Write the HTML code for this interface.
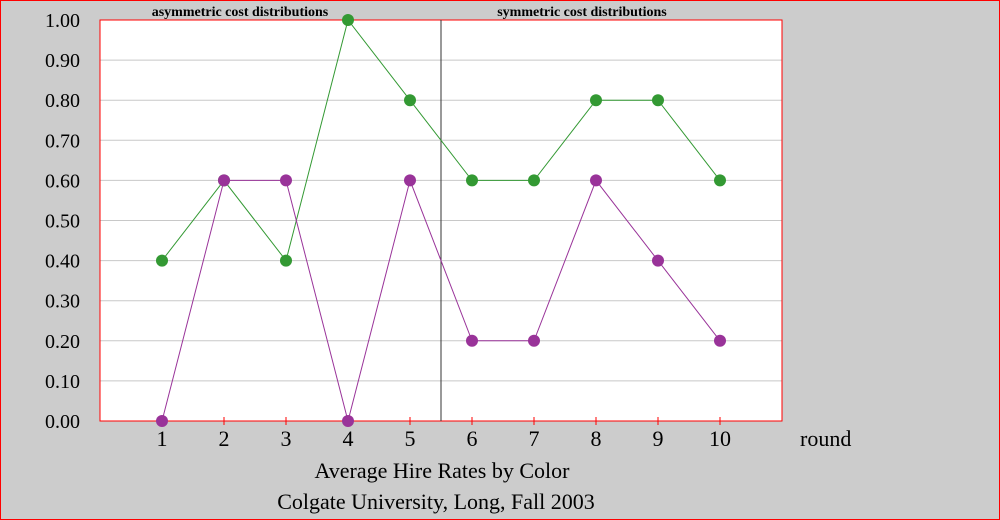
<!DOCTYPE html>
<html><head><meta charset="utf-8"><style>
body{margin:0;background:#ccc}
svg{display:block;font-family:"Liberation Serif",serif}
</style></head><body>
<svg width="1000" height="520">
<rect x="0.5" y="0.5" width="999" height="519" fill="#cccccc" stroke="#ff0000"/>
<g id="plot"></g>
</svg>
<script>
const rounds=[1,2,3,4,5,6,7,8,9,10];
const greenVals=[0.4,0.6,0.4,1.0,0.8,0.6,0.6,0.8,0.8,0.6];
const purpleVals=[0.0,0.6,0.6,0.0,0.6,0.2,0.2,0.6,0.4,0.2];
const yTicks=[0,0.1,0.2,0.3,0.4,0.5,0.6,0.7,0.8,0.9,1.0];
const L=100,R=782,T=20,B=421;
const xs=v=>L+(v/11)*(R-L);
const ys=v=>B-v*(B-T);
const NS="http://www.w3.org/2000/svg";
const g=document.getElementById('plot');
function mk(t,a,parent){const e=document.createElementNS(NS,t);for(const k in a)e.setAttribute(k,a[k]);(parent||g).appendChild(e);return e;}
const bg=mk('rect',{x:L,y:T,width:R-L,height:B-T,fill:'#fff'});


yTicks.forEach(v=>{
 if(v>0&&v<1){const ln=mk('line',{x1:L,x2:R,y1:ys(v),y2:ys(v),stroke:'#c8c8c8'});
 
 }
 const t=mk('text',{x:80,y:ys(v)+7,'text-anchor':'end','font-size':20});
 t.textContent=v.toFixed(2);
 
 
});
const fr=mk('rect',{x:L,y:T,width:R-L,height:B-T,fill:'none',stroke:'#ff0000'});


rounds.forEach(r=>{
 const tk=mk('line',{x1:xs(r),x2:xs(r),y1:B-4,y2:B+4,stroke:'#ff0000'});
 
 
 const t=mk('text',{x:xs(r),y:446,'text-anchor':'middle','font-size':22});
 t.textContent=r;
 
 
});
const dv=mk('line',{x1:xs(5.5),x2:xs(5.5),y1:T,y2:B,stroke:'#333'});


function series(vals,col,name){
 const pts=rounds.map((r,i)=>xs(r)+','+ys(vals[i])).join(' ');
 const pl=mk('polyline',{points:pts,fill:'none',stroke:col,'stroke-width':1});
 
 
 rounds.forEach((r,i)=>{
  const c=mk('circle',{cx:xs(r),cy:ys(vals[i]),r:6,fill:col});
  
  
 });
}
series(greenVals,'#339933','green-series');
series(purpleVals,'#993399','purple-series');
function txt(x,y,s,size,name,extra){const t=mk('text',Object.assign({x:x,y:y,'font-size':size},extra||{}));t.textContent=s;
 
 }
txt(240,16,'asymmetric cost distributions',14,'asymmetric-label',{'text-anchor':'middle','font-weight':'bold'});
txt(582,16,'symmetric cost distributions',14,'symmetric-label',{'text-anchor':'middle','font-weight':'bold'});
txt(800,446,'round',22,'x-axis-title');
txt(442,478,'Average Hire Rates by Color',22,'chart-title',{'text-anchor':'middle'});
txt(436,509,'Colgate University, Long, Fall 2003',22,'chart-subtitle',{'text-anchor':'middle'});
</script>
</body></html>
